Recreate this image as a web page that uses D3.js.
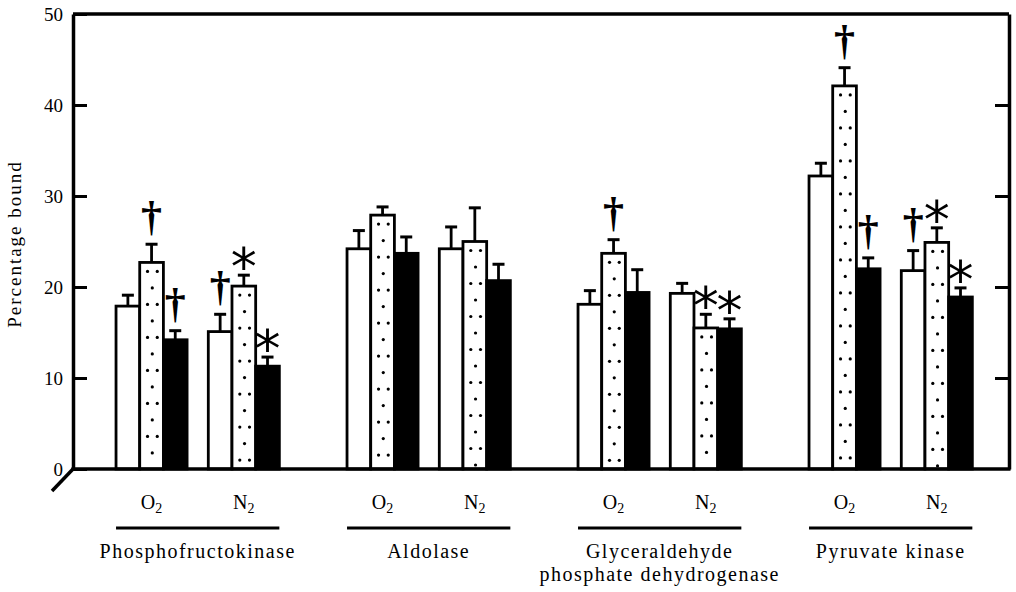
<!DOCTYPE html>
<html><head><meta charset="utf-8">
<script src="https://cdn.jsdelivr.net/npm/d3@7"></script>
<style>
html,body{margin:0;padding:0;background:#fff;}
svg{display:block;}
text{font-family:"Liberation Serif","Times New Roman",serif;fill:#000;}
</style></head><body>
<svg id="chart" width="1016" height="592"></svg>
<script>
// ---- data ----
const enzymes = ["Phosphofructokinase", "Aldolase", "Glyceraldehyde phosphate dehydrogenase", "Pyruvate kinase"];
const enzymeLabelLines = [["Phosphofructokinase"], ["Aldolase"], ["Glyceraldehyde", "phosphate dehydrogenase"], ["Pyruvate kinase"]];
const conditions = ["O2", "N2"];
const conditionLabels = [["O", "2"], ["N", "2"]];
const seriesKeys = ["open", "dotted", "solid"];
const yTicks = [0, 10, 20, 30, 40, 50];
// order: PFK O2, PFK N2, Ald O2, Ald N2, GAPDH O2, GAPDH N2, PK O2, PK N2
const openValues   = [17.9, 15.1, 24.2, 24.2, 18.1, 19.3, 32.2, 21.8];
const dottedValues = [22.7, 20.1, 27.9, 25.0, 23.7, 15.5, 42.1, 24.9];
const solidValues  = [14.2, 11.3, 23.7, 20.7, 19.4, 15.4, 22.0, 18.9];
const openErrors   = [1.2, 1.9, 2.0, 2.4, 1.5, 1.1, 1.4, 2.2];
const dottedErrors = [2.0, 1.2, 0.9, 3.7, 1.5, 1.5, 2.0, 1.6];
const solidErrors  = [1.0, 1.0, 1.8, 1.8, 2.5, 1.1, 1.2, 1.0];
const openMarks    = ["", "†", "", "", "", "", "", "†"];
const dottedMarks  = ["†", "*", "", "", "†", "*", "†", "*"];
const solidMarks   = ["†", "*", "", "", "", "*", "†", "*"];

const seriesValues = {open: openValues, dotted: dottedValues, solid: solidValues};
const seriesErrors = {open: openErrors, dotted: dottedErrors, solid: solidErrors};
const seriesMarks = {open: openMarks, dotted: dottedMarks, solid: solidMarks};

const rows = [];
enzymes.forEach((e, i) => conditions.forEach((c, j) => seriesKeys.forEach(s => {
  const idx = i * 2 + j;
  rows.push({enzyme: e, condition: c, series: s,
    value: seriesValues[s][idx], err: seriesErrors[s][idx], mark: seriesMarks[s][idx]});
})));

// ---- layout ----
const plotLeft = 73, plotRight = 1009, plotTop = 14, plotBottom = 469;
const svg = d3.select("#chart");
svg.append("rect").attr("width", 1016).attr("height", 592).attr("fill", "#fff");

const y = d3.scaleLinear().domain([0, 50]).range([plotBottom, plotTop]);
const x0 = d3.scaleBand().domain(enzymes).range([plotLeft, plotRight])
  .paddingInner(0.293).paddingOuter(0.1725).align(0.54);
const x1 = d3.scaleBand().domain(conditions).range([0, x0.bandwidth()]).paddingInner(0.23);
const x2 = d3.scaleBand().domain(seriesKeys).range([0, x1.bandwidth()]);
const barX = d => x0(d.enzyme) + x1(d.condition) + x2(d.series);
const bw = x2.bandwidth();

// bars
const bars = svg.append("g");
bars.selectAll("rect").data(rows).join("rect")
  .attr("x", barX).attr("y", d => y(d.value))
  .attr("width", bw).attr("height", d => y(0) - y(d.value))
  .attr("fill", d => d.series === "solid" ? "#000" : "#fff")
  .attr("stroke", "#000").attr("stroke-width", 2.8);

// dots for dotted bars
const dots = [];
rows.filter(d => d.series === "dotted").forEach(d => {
  const bx = barX(d);
  let k = 0;
  for (let yy = y(d.value) + 9; yy < y(0) - 3; yy += 16.5, k++) {
    if (k % 2 === 0) { dots.push([bx + bw * 0.33, yy]); dots.push([bx + bw * 0.74, yy]); }
    else dots.push([bx + bw * 0.53, yy]);
  }
});
svg.append("g").selectAll("circle").data(dots).join("circle")
  .attr("cx", d => d[0]).attr("cy", d => d[1]).attr("r", 1.6).attr("fill", "#000");

// error bars
const eb = svg.append("g").attr("stroke", "#000");
eb.selectAll("line.v").data(rows).join("line").attr("class", "v")
  .attr("x1", d => barX(d) + bw / 2).attr("x2", d => barX(d) + bw / 2)
  .attr("y1", d => y(d.value)).attr("y2", d => y(d.value + d.err)).attr("stroke-width", 2.8);
eb.selectAll("line.c").data(rows).join("line").attr("class", "c")
  .attr("x1", d => barX(d) + bw / 2 - 6).attr("x2", d => barX(d) + bw / 2 + 6)
  .attr("y1", d => y(d.value + d.err)).attr("y2", d => y(d.value + d.err)).attr("stroke-width", 3);

// significance marks
const marks = svg.append("g");
marks.selectAll("text.dag").data(rows.filter(d => d.mark === "†")).join("text").attr("class", "dag")
  .attr("x", d => barX(d) + bw / 2).attr("y", d => y(d.value + d.err) - 14)
  .attr("text-anchor", "middle").style("font-size", "42px").style("font-weight", "bold").text(d => d.mark);
marks.selectAll("text.ast").data(rows.filter(d => d.mark === "*")).join("text").attr("class", "ast")
  .attr("x", d => barX(d) + bw / 2).attr("y", d => y(d.value + d.err) - 20 + 30)
  .attr("text-anchor", "middle").style("font-family", "'DejaVu Sans'").style("font-size", "52px").text(d => d.mark);

// axes
const axL = d3.axisLeft(y).tickValues(yTicks).tickSizeInner(-14).tickSizeOuter(0).tickPadding(10).tickFormat(d3.format("d"));
const gL = svg.append("g").attr("transform", `translate(${plotLeft},0)`).call(axL);
gL.select(".domain").attr("stroke-width", 3.5);
gL.selectAll(".tick line").attr("stroke-width", 3);
gL.selectAll(".tick text").style("font-family", "'Liberation Serif',serif").style("font-size", "19px").attr("fill", "#000");

const axR = d3.axisRight(y).tickValues(yTicks.slice(1, -1)).tickSizeInner(-14).tickSizeOuter(0).tickFormat("");
const gR = svg.append("g").attr("transform", `translate(${plotRight},0)`).call(axR);
gR.select(".domain").attr("stroke-width", 3.5);
gR.selectAll(".tick line").attr("stroke-width", 3);

svg.append("line").attr("x1", plotLeft).attr("x2", plotRight).attr("y1", y(50)).attr("y2", y(50))
  .attr("stroke", "#000").attr("stroke-width", 3.5);
svg.append("line").attr("x1", plotLeft - 1.5).attr("x2", plotRight + 1.5).attr("y1", y(0)).attr("y2", y(0))
  .attr("stroke", "#000").attr("stroke-width", 3.5);
svg.append("line").attr("x1", plotLeft).attr("y1", y(0)).attr("x2", plotLeft - 21).attr("y2", y(0) + 22)
  .attr("stroke", "#000").attr("stroke-width", 3.5);

// y label
svg.append("text").attr("transform", `translate(21,${244}) rotate(-90)`)
  .attr("text-anchor", "middle").style("font-size", "19px").style("letter-spacing", "2px")
  .text("Percentage bound");

// condition labels
const condG = svg.append("g");
enzymes.forEach(e => conditions.forEach((c, j) => {
  const t = condG.append("text")
    .attr("x", x0(e) + x1(c) + x1.bandwidth() / 2).attr("y", 509)
    .attr("text-anchor", "middle").style("font-size", "20px");
  t.append("tspan").text(conditionLabels[j][0]);
  t.append("tspan").attr("dy", 4).style("font-size", "14px").text(conditionLabels[j][1]);
}));

// underline + enzyme labels
enzymes.forEach((e, i) => {
  svg.append("line").attr("x1", x0(e)).attr("x2", x0(e) + x0.bandwidth())
    .attr("y1", 528).attr("y2", 528).attr("stroke", "#000").attr("stroke-width", 3);
  enzymeLabelLines[i].forEach((ln, k) => {
    svg.append("text").attr("x", x0(e) + x0.bandwidth() / 2).attr("y", 558 + k * 23)
      .attr("text-anchor", "middle").style("font-size", "20px").style("letter-spacing", "1.5px").text(ln);
  });
});
</script>
</body></html>
